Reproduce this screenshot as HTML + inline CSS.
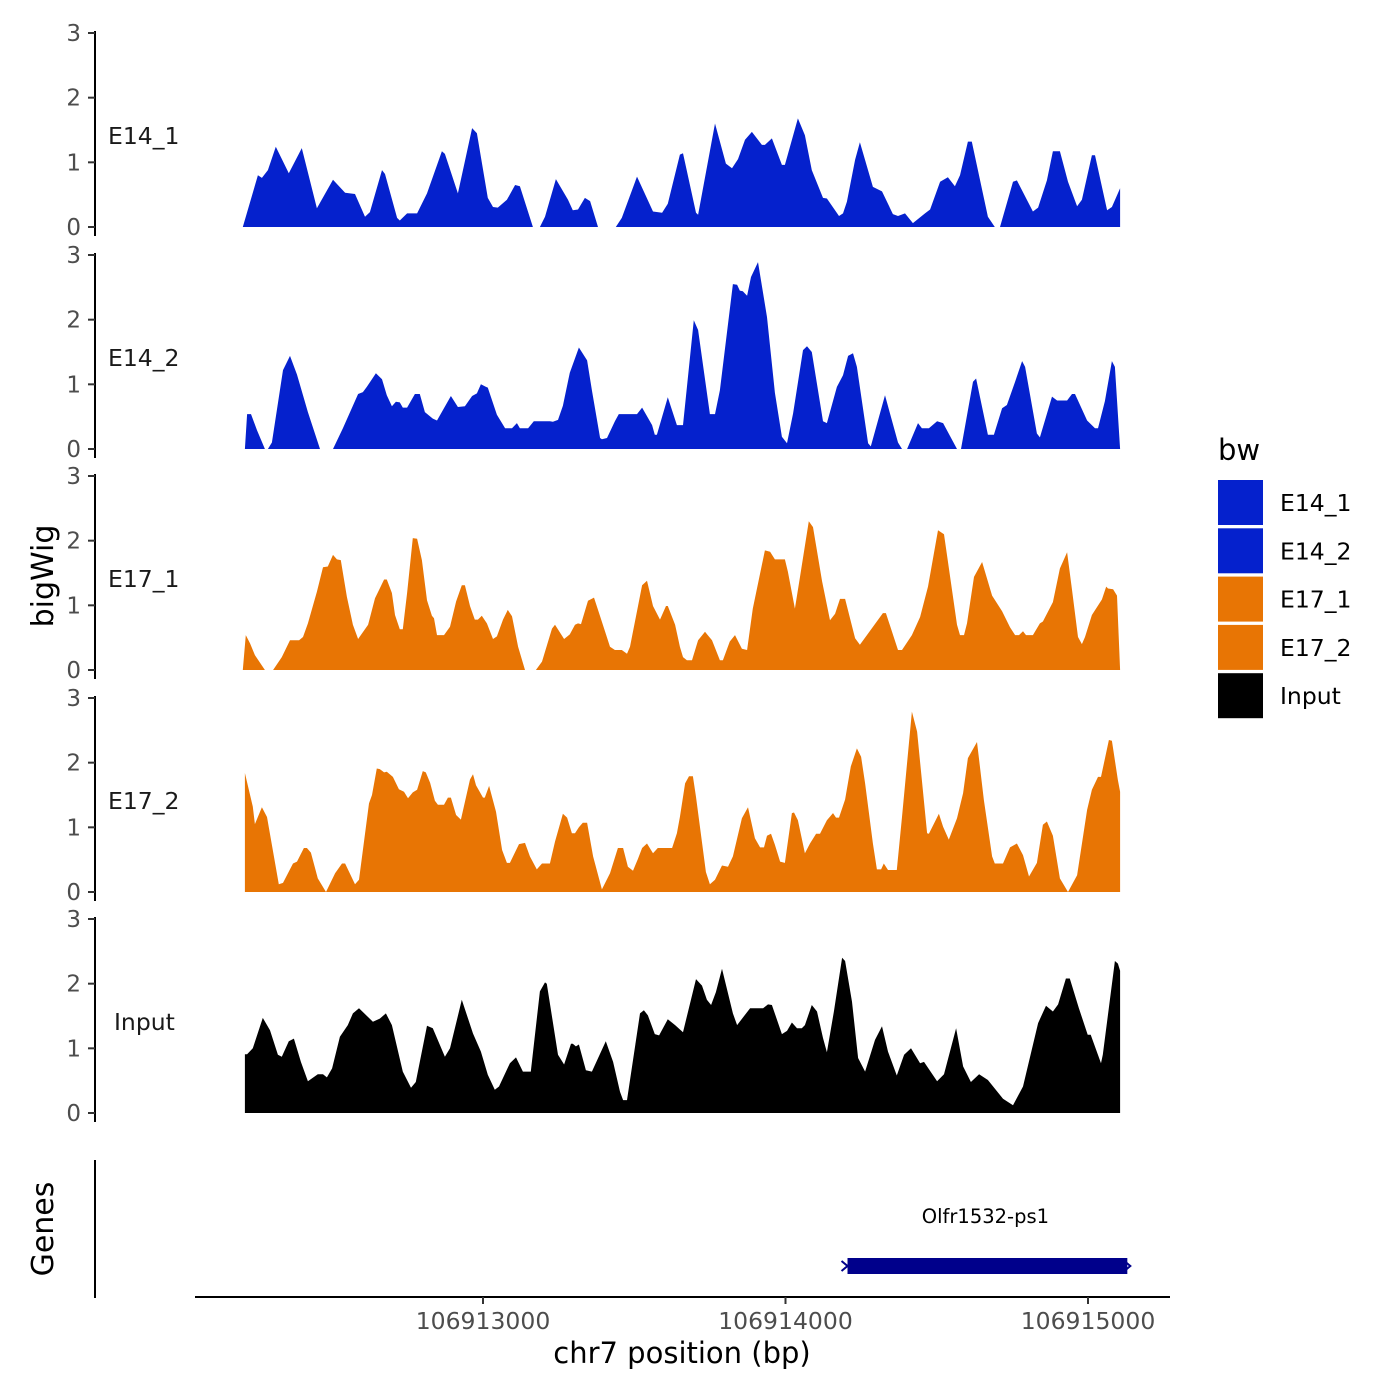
<!DOCTYPE html>
<html><head><meta charset="utf-8">
<style>
html,body{margin:0;padding:0;background:#fff;}
svg{display:block;font-family:"DejaVu Sans","Liberation Sans",sans-serif;}
</style></head>
<body>
<svg id="chart" width="1400" height="1400" viewBox="0 0 1400 1400" xmlns="http://www.w3.org/2000/svg">
<rect width="1400" height="1400" fill="#fff"/>
<g id="tracks"></g>
<g id="axes"></g>
<text transform="translate(53,576) rotate(-90)" text-anchor="middle" font-size="30" fill="#000">bigWig</text>
<text transform="translate(53,1229) rotate(-90)" text-anchor="middle" font-size="30" fill="#000">Genes</text>
<line x1="95" y1="1160" x2="95" y2="1298" stroke="#000" stroke-width="2"/>
<line x1="195" y1="1297" x2="1170" y2="1297" stroke="#000" stroke-width="2"/>
<g id="xticks"></g>
<text x="682" y="1363" text-anchor="middle" font-size="29" fill="#000">chr7 position (bp)</text>
<g id="gene"></g>
<g>
<text x="1218" y="460" font-size="29" fill="#000">bw</text>
<g id="legend-keys"></g>
</g>
</svg>
<script>
const REGION_OFFSET = 106912000;
const xTickValues = [106913000, 106914000, 106915000];
const xTickLabels = ["106913000", "106914000", "106915000"];
const yTickValues = [0, 1, 2, 3];
const trackNames = ["E14_1", "E14_2", "E17_1", "E17_2", "Input"];
const trackColors = ["#0521CD", "#0521CD", "#E87504", "#E87504", "#000000"];
const geneName = "Olfr1532-ps1";
const geneStart = 106914205;
const geneEnd = 106915130;

// [position offset from REGION_OFFSET (bp), signal]; null = no data
const e141 = [[206,0],[256,.8],[269,.76],[289,.88],[315,1.24],[358,.83],[401,1.22],[451,.29],[504,.73],[544,.53],[577,.51],[610,.16],[626,.23],[666,.88],[676,.82],[716,.14],[725,.1],[749,.21],[782,.21],[815,.52],[864,1.17],[874,1.13],[917,.52],[964,1.53],[980,1.45],[1016,.45],[1033,.31],[1049,.3],[1079,.42],[1106,.65],[1122,.63],[1165,0],null,[1188,0],[1205,.16],[1241,.74],[1281,.42],[1297,.26],[1314,.27],[1337,.45],[1354,.4],[1380,0],null,[1439,0],[1459,.14],[1509,.78],[1562,.24],[1592,.22],[1611,.36],[1651,1.12],[1661,1.14],[1704,.22],[1711,.19],[1767,1.6],[1803,.98],[1823,.91],[1843,1.05],[1866,1.35],[1889,1.47],[1922,1.27],[1932,1.27],[1955,1.37],[1988,.96],[1998,.96],[2041,1.68],[2064,1.42],[2087,.88],[2124,.45],[2137,.44],[2177,.17],[2190,.21],[2203,.39],[2230,1.04],[2246,1.31],[2289,.62],[2319,.55],[2355,.2],[2372,.17],[2395,.21],[2421,.06],[2461,.21],[2478,.27],[2511,.7],[2537,.77],[2560,.63],[2577,.8],[2603,1.32],[2616,1.32],[2669,.16],[2692,0],null,[2709,0],[2752,.7],[2765,.72],[2818,.24],[2835,.3],[2864,.72],[2884,1.17],[2907,1.17],[2934,.7],[2964,.32],[2980,.42],[3013,1.11],[3023,1.11],[3063,.26],[3079,.31],[3106,.6]];

const e142 = [[213,0],[220,.54],[233,.54],[253,.29],[279,0],null,[289,0],[302,.1],[339,1.22],[362,1.44],[385,1.15],[421,.57],[461,0],null,[504,0],[537,.32],[587,.85],[603,.88],[616,.96],[646,1.17],[666,1.08],[682,.83],[699,.66],[712,.73],[725,.72],[735,.64],[749,.64],[775,.85],[791,.85],[808,.57],[834,.47],[848,.44],[894,.82],[917,.65],[940,.66],[964,.82],[980,.86],[993,1.0],[1010,.96],[1016,.95],[1046,.53],[1073,.32],[1096,.32],[1112,.4],[1122,.32],[1149,.32],[1168,.43],[1221,.43],[1231,.42],[1248,.45],[1264,.67],[1287,1.18],[1317,1.57],[1344,1.37],[1360,.91],[1387,.17],[1393,.15],[1410,.17],[1436,.43],[1449,.54],[1509,.54],[1526,.64],[1559,.37],[1568,.22],[1575,.22],[1611,.8],[1641,.37],[1661,.37],[1697,1.99],[1711,1.84],[1750,.54],[1767,.54],[1783,.91],[1826,2.55],[1840,2.54],[1849,2.45],[1859,2.44],[1873,2.37],[1886,2.66],[1909,2.89],[1939,2.04],[1965,.87],[1988,.19],[2005,.09],[2025,.55],[2058,1.53],[2071,1.59],[2087,1.5],[2124,.43],[2137,.4],[2170,.96],[2190,1.14],[2207,1.44],[2223,1.48],[2236,1.27],[2273,.09],[2282,.04],[2329,.83],[2372,.1],[2385,0],null,[2402,0],[2438,.4],[2451,.32],[2474,.32],[2501,.43],[2521,.4],[2567,0],null,[2580,0],[2620,1.04],[2630,1.09],[2669,.22],[2689,.22],[2716,.63],[2732,.68],[2759,1.04],[2782,1.36],[2792,1.27],[2831,.24],[2841,.18],[2881,.81],[2898,.75],[2931,.75],[2947,.85],[2957,.85],[2997,.44],[3023,.32],[3033,.32],[3056,.74],[3079,1.36],[3089,1.27],[3106,0]];

const e171 = [[206,0],[216,.54],[230,.41],[246,.23],[279,0],null,[306,0],[335,.2],[362,.46],[392,.46],[405,.51],[421,.72],[451,1.21],[471,1.59],[487,1.6],[504,1.78],[517,1.71],[530,1.7],[550,1.13],[570,.7],[587,.48],[620,.7],[643,1.11],[673,1.4],[682,1.4],[699,1.19],[709,.85],[725,.63],[735,.63],[749,1.19],[768,2.04],[782,2.03],[798,1.7],[815,1.08],[831,.84],[838,.8],[848,.54],[871,.54],[891,.67],[911,1.06],[930,1.31],[940,1.31],[957,.99],[973,.78],[983,.78],[996,.84],[1013,.72],[1033,.48],[1046,.52],[1066,.78],[1082,.93],[1096,.83],[1116,.36],[1139,0],null,[1175,0],[1195,.13],[1228,.64],[1238,.7],[1268,.48],[1287,.55],[1304,.7],[1314,.72],[1324,.71],[1347,1.07],[1367,1.12],[1387,.83],[1420,.36],[1436,.31],[1459,.31],[1476,.25],[1486,.36],[1526,1.31],[1542,1.38],[1562,.99],[1585,.78],[1605,.99],[1611,.99],[1635,.7],[1651,.36],[1661,.2],[1674,.15],[1691,.15],[1711,.46],[1734,.59],[1757,.46],[1783,.15],[1793,.15],[1816,.44],[1833,.54],[1856,.33],[1873,.31],[1892,.95],[1932,1.85],[1949,1.83],[1965,1.71],[1998,1.71],[2008,1.52],[2031,.95],[2048,1.44],[2077,2.3],[2091,2.21],[2121,1.37],[2147,.77],[2164,.87],[2180,1.1],[2197,1.1],[2230,.49],[2246,.39],[2322,.88],[2332,.88],[2372,.31],[2385,.31],[2418,.54],[2445,.82],[2471,1.29],[2504,2.16],[2524,2.1],[2567,.7],[2577,.54],[2590,.54],[2600,.72],[2623,1.44],[2650,1.67],[2683,1.15],[2716,.91],[2742,.66],[2759,.54],[2772,.54],[2785,.6],[2795,.54],[2818,.54],[2841,.72],[2851,.75],[2884,1.05],[2907,1.57],[2931,1.82],[2947,1.24],[2967,.51],[2980,.4],[2990,.51],[3013,.85],[3046,1.09],[3060,1.29],[3066,1.26],[3083,1.25],[3096,1.15],[3106,0]];

const e172 = [[213,1.84],[239,1.32],[246,1.05],[269,1.31],[286,1.16],[325,.12],[339,.14],[372,.44],[385,.47],[408,.68],[418,.68],[431,.61],[454,.21],[481,0],[511,.29],[534,.44],[544,.44],[577,.12],[590,.19],[623,1.37],[633,1.5],[649,1.91],[659,1.9],[673,1.85],[682,1.86],[702,1.78],[722,1.59],[739,1.55],[752,1.45],[768,1.54],[782,1.58],[801,1.87],[811,1.85],[825,1.69],[841,1.41],[851,1.35],[871,1.35],[884,1.46],[894,1.46],[911,1.19],[927,1.12],[957,1.74],[967,1.82],[977,1.65],[1000,1.46],[1006,1.46],[1020,1.64],[1043,1.24],[1063,.65],[1079,.45],[1089,.45],[1119,.74],[1139,.76],[1155,.55],[1178,.35],[1195,.44],[1221,.44],[1238,.78],[1264,1.21],[1278,1.15],[1294,.91],[1304,.91],[1317,1.0],[1330,1.07],[1344,1.07],[1364,.55],[1393,.04],[1420,.29],[1446,.68],[1463,.68],[1479,.39],[1496,.33],[1512,.51],[1526,.68],[1542,.75],[1562,.6],[1578,.68],[1625,.68],[1641,.91],[1651,1.16],[1668,1.68],[1681,1.79],[1694,1.79],[1704,1.47],[1737,.31],[1750,.12],[1767,.19],[1790,.41],[1810,.39],[1826,.55],[1856,1.14],[1876,1.31],[1899,.83],[1916,.69],[1929,.69],[1939,.87],[1952,.9],[1965,.73],[1982,.47],[1998,.45],[2021,1.22],[2028,1.23],[2041,1.11],[2064,.6],[2081,.75],[2101,.9],[2114,.9],[2137,1.11],[2157,1.22],[2167,1.15],[2177,1.15],[2197,1.43],[2216,1.94],[2236,2.22],[2250,2.09],[2263,1.68],[2289,.75],[2302,.35],[2316,.35],[2325,.44],[2339,.34],[2368,.34],[2385,1.16],[2418,2.79],[2435,2.48],[2468,.91],[2474,.9],[2507,1.21],[2521,1.01],[2540,.81],[2567,1.14],[2587,1.53],[2603,2.07],[2633,2.32],[2656,1.42],[2683,.55],[2692,.44],[2719,.44],[2742,.69],[2765,.75],[2785,.57],[2805,.24],[2831,.45],[2851,1.04],[2864,1.09],[2884,.87],[2907,.21],[2934,0],[2964,.26],[2997,1.27],[3013,1.58],[3033,1.78],[3043,1.78],[3069,2.35],[3079,2.34],[3099,1.73],[3106,1.55]];

const input = [[213,.91],[220,.91],[239,1.0],[272,1.47],[296,1.28],[322,.9],[335,.87],[358,1.11],[375,1.15],[398,.79],[421,.49],[454,.6],[471,.6],[484,.55],[501,.69],[527,1.18],[553,1.36],[570,1.54],[590,1.62],[636,1.41],[659,1.46],[679,1.54],[699,1.36],[735,.64],[762,.39],[778,.48],[815,1.35],[834,1.31],[874,.87],[891,1.0],[930,1.75],[967,1.23],[993,.95],[1016,.59],[1039,.36],[1053,.41],[1089,.77],[1109,.86],[1132,.64],[1158,.64],[1188,1.88],[1205,2.02],[1211,2.0],[1248,.9],[1268,.75],[1291,1.07],[1297,1.07],[1307,1.03],[1317,1.06],[1340,.66],[1360,.64],[1406,1.11],[1430,.79],[1453,.33],[1463,.2],[1476,.2],[1519,1.54],[1532,1.59],[1545,1.51],[1568,1.22],[1582,1.2],[1611,1.45],[1635,1.36],[1661,1.25],[1704,2.07],[1724,1.97],[1740,1.75],[1754,1.67],[1770,1.87],[1790,2.23],[1826,1.54],[1840,1.36],[1883,1.62],[1926,1.62],[1942,1.68],[1955,1.67],[1988,1.22],[2005,1.27],[2021,1.4],[2038,1.31],[2054,1.31],[2064,1.36],[2087,1.67],[2104,1.57],[2124,1.16],[2137,.94],[2160,1.57],[2187,2.4],[2197,2.35],[2220,1.72],[2240,.85],[2263,.64],[2296,1.13],[2319,1.34],[2339,.95],[2368,.58],[2392,.9],[2415,1.0],[2445,.77],[2458,.79],[2501,.49],[2524,.6],[2564,1.31],[2587,.72],[2613,.48],[2640,.6],[2669,.51],[2719,.22],[2752,.12],[2785,.41],[2835,1.39],[2861,1.66],[2884,1.57],[2901,1.68],[2927,2.08],[2940,2.08],[2970,1.62],[2999,1.21],[3009,1.21],[3043,.77],[3049,.9],[3089,2.35],[3099,2.31],[3106,2.2]];

const trackData = [e141, e142, e171, e172, input];

const NS = "http://www.w3.org/2000/svg";
const panelZero = [227, 449, 670, 892, 1113];
const unitPx = 194 / 3;
function xScale(bp){ return 483 + (bp - 106913000) * 0.3025; }
function yScale(v, p){ return panelZero[p] - v * unitPx; }
function mk(tag, attrs, parent){
  const el = document.createElementNS(NS, tag);
  for (const k in attrs) el.setAttribute(k, attrs[k]);
  parent.appendChild(el);
  return el;
}
const tracksG = document.getElementById('tracks');
const axesG = document.getElementById('axes');

trackData.forEach((series, p) => {
  const g = mk('g', {}, tracksG);
  
  
  const segs = [];
  let cur = [];
  series.forEach(pt => {
    if (pt === null) { if (cur.length) segs.push(cur); cur = []; }
    else cur.push(pt);
  });
  if (cur.length) segs.push(cur);
  segs.forEach(seg => {
    const base = yScale(0, p);
    let d = 'M' + xScale(REGION_OFFSET + seg[0][0]).toFixed(1) + ',' + base.toFixed(1);
    seg.forEach(pt => {
      d += 'L' + xScale(REGION_OFFSET + pt[0]).toFixed(1) + ',' + yScale(pt[1], p).toFixed(1);
    });
    d += 'L' + xScale(REGION_OFFSET + seg[seg.length-1][0]).toFixed(1) + ',' + base.toFixed(1) + 'Z';
    const path = mk('path', {d: d, fill: trackColors[p]}, g);
    
    
  });

  const top = yScale(3, p) - 2, bot = yScale(0, p) + 9;
  const ax = mk('line', {x1: 95, y1: top, x2: 95, y2: bot, stroke: '#000', 'stroke-width': 2}, axesG);
  
  
  yTickValues.forEach(v => {
    const y = yScale(v, p);
    const t = mk('line', {x1: 88, y1: y, x2: 95, y2: y, stroke: '#333', 'stroke-width': 2}, axesG);
    
    
    const lb = mk('text', {x: 81, y: y + 8, 'text-anchor': 'end', 'font-size': 23, fill: '#4d4d4d'}, axesG);
    
    
    lb.textContent = String(v);
  });
  const st = mk('text', {x: trackNames[p] === 'Input' ? 114 : 108, y: yScale(1.28, p), 'font-size': 23.5, fill: '#1a1a1a'}, axesG);
  
  
  st.textContent = trackNames[p];
});

const xt = document.getElementById('xticks');
xTickValues.forEach((v, i) => {
  const x = xScale(v);
  const t = mk('line', {x1: x, y1: 1297, x2: x, y2: 1304, stroke: '#333', 'stroke-width': 2}, xt);
  
  
  const lb = mk('text', {x: x, y: 1329, 'text-anchor': 'middle', 'font-size': 23.5, fill: '#4d4d4d'}, xt);
  
  
  lb.textContent = xTickLabels[i];
});

const gg = document.getElementById('gene');
const gx1 = xScale(geneStart), gx2 = xScale(geneEnd);
const gb = mk('rect', {x: gx1, y: 1258, width: gx2 - gx1, height: 16, fill: '#00008B'}, gg);


const ga1 = mk('path', {d: 'M' + (gx1-6) + ',1261 L' + gx1 + ',1266 L' + (gx1-6) + ',1271', stroke: '#00008B', 'stroke-width': 2, fill: 'none'}, gg);


const ga2 = mk('path', {d: 'M' + (gx2-3) + ',1261 L' + (gx2+3) + ',1266 L' + (gx2-3) + ',1271', stroke: '#00008B', 'stroke-width': 2, fill: 'none'}, gg);


const gl = mk('text', {x: (gx1 + gx2) / 2 - 2, y: 1223, 'text-anchor': 'middle', 'font-size': 19.5, fill: '#000'}, gg);


gl.textContent = geneName;

const lk = document.getElementById('legend-keys');
trackNames.forEach((n, i) => {
  const y = 480 + i * 48.3;
  const r = mk('rect', {x: 1218, y: y, width: 45, height: 45, fill: trackColors[i]}, lk);
  
  
  const t = mk('text', {x: 1280, y: y + 31, 'font-size': 23.5, fill: '#000'}, lk);
  
  
  t.textContent = n;
});
</script>
</body></html>
